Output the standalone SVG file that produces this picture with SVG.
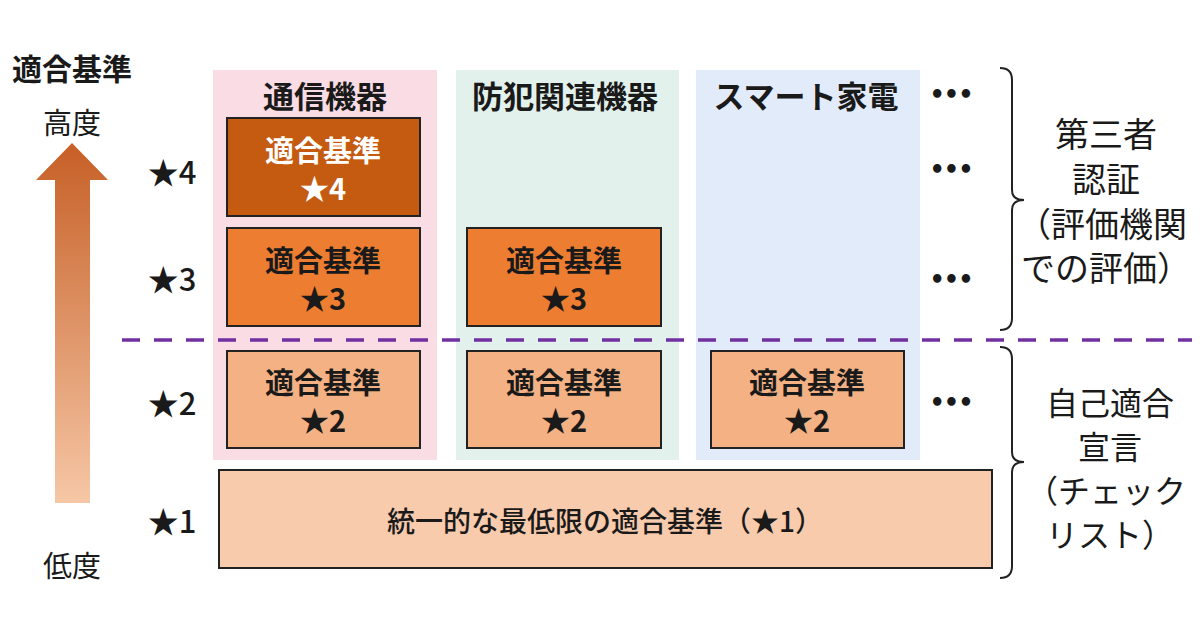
<svg xmlns="http://www.w3.org/2000/svg" width="1200" height="630" viewBox="0 0 1200 630">
<defs>
<linearGradient id="ag" x1="0" y1="0" x2="0" y2="1">
<stop offset="0" stop-color="#C65F26"/>
<stop offset="1" stop-color="#F6C7A6"/>
</linearGradient>
<style>
text{font-family:"Noto Sans CJK JP","Noto Sans",sans-serif;text-anchor:middle;fill:#1a1a1a}
.hd{font-size:31px;font-weight:700}
.bx{font-size:29px;font-weight:700}
.st{font-size:31px;font-weight:500}
.rt{font-size:34px;font-weight:400}
.rs{font-size:32px;font-weight:400}
.dot{font-family:"DejaVu Sans",sans-serif;font-size:24px;letter-spacing:-1px;font-weight:700}
.box{stroke:#222;stroke-width:2}
.br{fill:none;stroke:#222;stroke-width:2}
</style>
</defs>
<rect width="1200" height="630" fill="#ffffff"/>
<g id="axis">
<text x="72" y="80" style="font-size:30px;font-weight:700">適合基準</text>
<text x="72" y="134" style="font-size:29px">高度</text>
<path d="M72 143 L108 180 L90 180 L90 503 L55 503 L55 180 L36 180 Z" fill="url(#ag)"/>
<text x="72" y="577" style="font-size:29px">低度</text>
</g>
<g id="levels">
<text class="st" x="172" y="184">★4</text>
<text class="st" x="172" y="291">★3</text>
<text class="st" x="172" y="415">★2</text>
<text class="st" x="172" y="533">★1</text>
</g>
<g id="col-tsushin">
<rect x="213" y="70" width="224" height="390" fill="#FADCE4"/>
<text class="hd" x="325" y="108">通信機器</text>
</g>
<g id="col-bohan">
<rect x="456" y="70" width="223" height="390" fill="#E2F1EB"/>
<text class="hd" x="565" y="108">防犯関連機器</text>
</g>
<g id="col-smart">
<rect x="696" y="70" width="224" height="390" fill="#E1EBFA"/>
<text class="hd" x="806" y="108">スマート家電</text>
</g>
<g id="box-t4">
<rect class="box" x="227" y="118" width="193" height="98" fill="#C55A11"/>
<text class="bx" x="323" y="162" style="fill:#fff">適合基準</text>
<text class="bx" x="323" y="200" style="fill:#fff">★4</text>
</g>
<g id="box-t3">
<rect class="box" x="227" y="228" width="193" height="98" fill="#ED7D31"/>
<text class="bx" x="323" y="272">適合基準</text>
<text class="bx" x="323" y="310">★3</text>
</g>
<g id="box-b3">
<rect class="box" x="467" y="228" width="194" height="98" fill="#ED7D31"/>
<text class="bx" x="564" y="272">適合基準</text>
<text class="bx" x="564" y="310">★3</text>
</g>
<g id="box-t2">
<rect class="box" x="227" y="351" width="193" height="97" fill="#F4B183"/>
<text class="bx" x="323" y="394">適合基準</text>
<text class="bx" x="323" y="432">★2</text>
</g>
<g id="box-b2">
<rect class="box" x="467" y="351" width="194" height="97" fill="#F4B183"/>
<text class="bx" x="564" y="394">適合基準</text>
<text class="bx" x="564" y="432">★2</text>
</g>
<g id="box-s2">
<rect class="box" x="711" y="351" width="193" height="97" fill="#F4B183"/>
<text class="bx" x="807" y="394">適合基準</text>
<text class="bx" x="807" y="432">★2</text>
</g>
<g id="box-1">
<rect class="box" x="219" y="470" width="773" height="98" fill="#F8CBAD"/>
<text class="bx" x="605" y="532" style="font-size:28px;font-weight:500">統一的な最低限の適合基準（★1）</text>
</g>
<g id="dots">
<text class="dot" x="951" y="103">•••</text>
<text class="dot" x="951" y="178">•••</text>
<text class="dot" x="951" y="288">•••</text>
<text class="dot" x="951" y="411">•••</text>
</g>
<g id="connectors">
<line x1="122" y1="340" x2="1192" y2="340" stroke="#7030A0" stroke-width="3.5" stroke-dasharray="18,14"/>
<path class="br" d="M1000 68 Q1012 68 1012 80 L1012 190 Q1012 200 1024 200 Q1012 200 1012 210 L1012 318 Q1012 330 1000 330"/>
<path class="br" d="M1000 347 Q1012 347 1012 359 L1012 452 Q1012 462 1024 462 Q1012 462 1012 472 L1012 566 Q1012 578 1000 578"/>
</g>
<g id="label-3rd">
<text class="rt" x="1106" y="147">第三者</text>
<text class="rt" x="1106" y="192">認証</text>
<text class="rt" x="1102" y="237">（評価機関</text>
<text class="rt" x="1106" y="281">での評価）</text>
</g>
<g id="label-self">
<text class="rs" x="1110" y="415">自己適合</text>
<text class="rs" x="1110" y="459">宣言</text>
<text class="rs" x="1106" y="503">（チェック</text>
<text class="rs" x="1110" y="547">リスト）</text>
</g>
</svg>
